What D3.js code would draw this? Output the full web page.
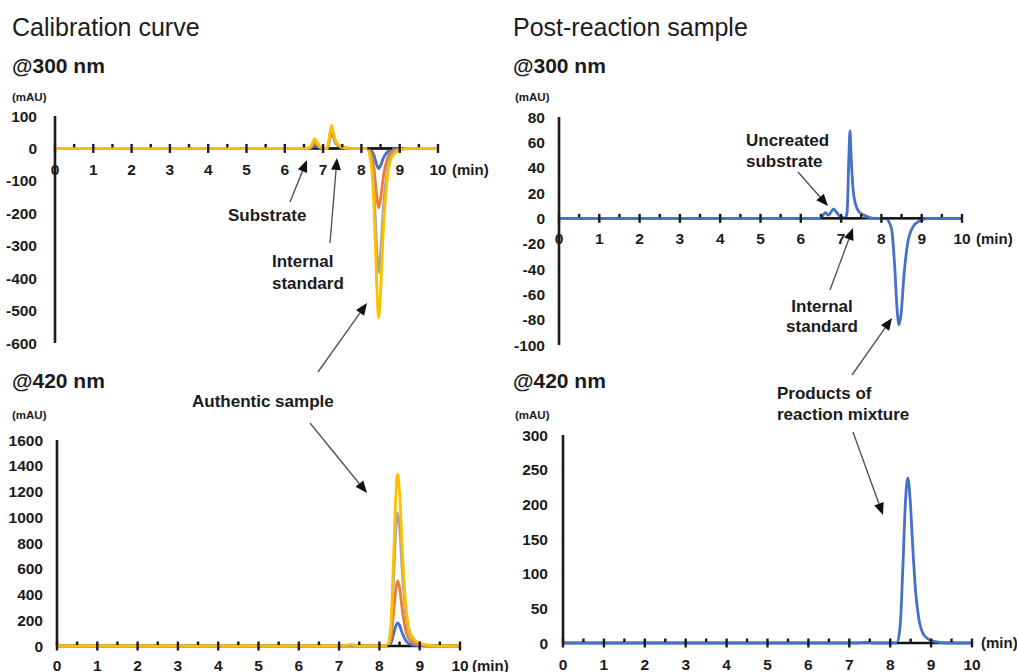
<!DOCTYPE html>
<html><head><meta charset="utf-8">
<script src="https://cdn.jsdelivr.net/npm/d3@7/dist/d3.min.js"></script>
<style>
body{margin:0;background:#fff;}
svg{display:block;font-family:"Liberation Sans",Arial,sans-serif;}
</style></head>
<body>
<svg id="c" width="1017" height="672"></svg>
<script>
// ---------------- DATA ----------------
const xTickLabels = [0,1,2,3,4,5,6,7,8,9,10];
const seriesNames = ["blue","orange","gray","yellow"];
const seriesColors = ["#4472C4","#ED7D31","#A5A5A5","#FFC000"];

// Calibration curve @300 nm
const calib300Ticks = [100,0,-100,-200,-300,-400,-500,-600];
const calib300Time = [0,6.6,6.68,6.74,6.78,6.83,6.9,6.98,7.05,7.1,7.15,7.19,7.22,7.26,7.32,7.4,7.5,7.7,8.15,8.25,8.33,8.4,8.45,8.5,8.58,8.68,8.8,9.0,9.3,10];
const calib300Blue   = [0,0,2,7,10,7,3,0.5,0,0,15,40,50,38,18,8,3,0,0,-5,-22,-50,-62,-53,-28,-11,-3,-1,0,0];
const calib300Orange = [0,0,4,13,18,13,5,1,0,0,17,46,58,44,20,9,3,0,0,-15,-64,-146,-183,-156,-82,-31,-9,-2,0,0];
const calib300Gray   = [0,0,5,17,24,17,6,1,0,0,19,51,64,48,22,10,3,0,0,-31,-134,-307,-384,-326,-173,-65,-19,-4,0,0];
const calib300Yellow = [0,0,6,21,30,21,8,2,0,0,21,56,70,53,25,11,4,0,0,-42,-183,-418,-523,-445,-235,-89,-26,-5,0,0];
const calib300Baselines = [[7.15,7.4],[8.15,8.8]];

// Calibration curve @420 nm
const calib420Ticks = [1600,1400,1200,1000,800,600,400,200,0];
const calib420Time = [0,7.1,7.3,7.5,8.2,8.28,8.35,8.41,8.45,8.5,8.57,8.65,8.75,8.9,9.1,9.4,10];
const calib420Blue   = [0,0,2,0,0,18,90,158,179,161,98,45,16,5,2,0,0];
const calib420Orange = [0,0,5,0,0,50,252,444,505,455,278,126,45,15,5,0,0];
const calib420Gray   = [0,0,8,0,0,103,516,909,1033,930,568,258,93,31,10,0,0];
const calib420Yellow = [0,0,12,0,0,134,668,1176,1336,1202,735,334,120,40,13,0,0];
const calib420Baselines = [[8.2,8.75]];

// Post-reaction sample @300 nm
const post300Ticks = [80,60,40,20,0,-20,-40,-60,-80,-100];
const post300Time = [0,6.5,6.56,6.62,6.68,6.75,6.81,6.88,6.95,7.02,7.1,7.15,7.19,7.22,7.25,7.3,7.36,7.45,7.6,7.8,8.1,8.25,8.33,8.39,8.44,8.49,8.56,8.65,8.78,8.95,9.2,10];
const post300Blue = [0,0,3,4.5,2.5,5,7.5,5,2,1,0,5,45,69,48,22,11,5,2,0,0,-8,-38,-72,-84,-75,-45,-20,-7,-2,0,0];
const post300Baselines = [[6.5,7.5],[8.0,9.0]];

// Post-reaction sample @420 nm
const post420Ticks = [300,250,200,150,100,50,0];
const post420Time = [0,7.2,7.4,7.6,8.17,8.25,8.31,8.37,8.43,8.49,8.55,8.62,8.7,8.8,8.95,9.1,9.4,10];
const post420Blue = [0,0,1,0,0,30,110,200,238,205,140,75,35,14,5,2,0,0];
const post420Baselines = [[8.17,8.93]];

// ---------------- LAYOUT ----------------
const svg = d3.select("#c");
const ink = "#1b1b1b";

const panels = [
  {time: calib300Time, series:[calib300Blue,calib300Orange,calib300Gray,calib300Yellow], colorIdx:[0,1,2,3],
   ticks: calib300Ticks, dom:[-600,100], x0:55, x1:438, yTop:116, yBot:343, labelX:37, xLabDy:26.5,
   minX:[452,175], baselines: calib300Baselines},
  {time: calib420Time, series:[calib420Blue,calib420Orange,calib420Gray,calib420Yellow], colorIdx:[0,1,2,3],
   ticks: calib420Ticks, dom:[0,1600], x0:57, x1:460, yTop:440, yBot:646, labelX:43, xLabDy:24.5,
   minX:[472,670.5], baselines: calib420Baselines},
  {time: post300Time, series:[post300Blue], colorIdx:[0],
   ticks: post300Ticks, dom:[-100,80], x0:559, x1:962, yTop:117, yBot:345, labelX:545, xLabDy:26,
   minX:[976,244], baselines: post300Baselines},
  {time: post420Time, series:[post420Blue], colorIdx:[0],
   ticks: post420Ticks, dom:[0,300], x0:563, x1:972, yTop:435, yBot:643, labelX:548, xLabDy:27,
   minX:[981,648], baselines: post420Baselines}
];

panels.forEach(p => {
  const x = d3.scaleLinear().domain([0,10]).range([p.x0,p.x1]);
  const y = d3.scaleLinear().domain(p.dom).range([p.yBot,p.yTop]);
  const g = svg.append("g");
  const y0 = y(0);
  g.append("line").attr("x1",p.x0).attr("x2",p.x0).attr("y1",p.yTop).attr("y2",p.yBot)
    .attr("stroke",ink).attr("stroke-width",2.6);
  g.append("line").attr("x1",p.x0).attr("x2",p.x1).attr("y1",y0).attr("y2",y0)
    .attr("stroke",ink).attr("stroke-width",2.4);
  g.selectAll(".yl").data(p.ticks).enter().append("text")
    .attr("x",p.labelX).attr("y",d=>y(d)).attr("dy","0.36em")
    .attr("text-anchor","end").attr("font-size",15.5).attr("font-weight","bold").attr("fill",ink)
    .text(d=>d);
  const line = d3.line().x(d=>x(d[0])).y(d=>y(d[1])).curve(d3.curveMonotoneX);
  p.series.forEach((vals,i) => {
    const pts = p.time.map((t,k)=>[t,vals[k]]);
    g.append("path").attr("d",line(pts)).attr("fill","none")
      .attr("stroke",seriesColors[p.colorIdx[i]]).attr("stroke-width",2.8)
      .attr("stroke-linejoin","round");
  });
  p.baselines.forEach(b => {
    g.append("line").attr("x1",x(b[0])).attr("x2",x(b[1])).attr("y1",y0).attr("y2",y0)
      .attr("stroke","#111").attr("stroke-width",2);
  });
  const major = d3.range(0,11,1), minor = d3.range(0.5,10,1);
  g.selectAll(".mj").data(major).enter().append("line")
    .attr("x1",d=>x(d)).attr("x2",d=>x(d)).attr("y1",y0-4.5).attr("y2",y0+4.5)
    .attr("stroke",ink).attr("stroke-width",2.4);
  g.selectAll(".mn").data(minor).enter().append("line")
    .attr("x1",d=>x(d)).attr("x2",d=>x(d)).attr("y1",y0-4.5).attr("y2",y0-1)
    .attr("stroke",ink).attr("stroke-width",2.4);
  g.selectAll(".xl").data(xTickLabels).enter().append("text")
    .attr("x",d=>x(d)).attr("y",y0+p.xLabDy)
    .attr("text-anchor","middle").attr("font-size",15.5).attr("font-weight","bold").attr("fill",ink)
    .text(d=>d);
  g.append("text").attr("x",p.minX[0]).attr("y",p.minX[1])
    .attr("font-size",15).attr("font-weight","bold").attr("fill",ink).text("(min)");
});

// ---------------- TEXT ----------------
function txt(x,y,s,size,weight,anchor){
  svg.append("text").attr("x",x).attr("y",y).attr("font-size",size)
    .attr("font-weight",weight||"normal").attr("text-anchor",anchor||"start")
    .attr("fill",ink).text(s);
}
txt(12,36,"Calibration curve",25);
txt(513,36,"Post-reaction sample",25);
txt(12,73,"@300 nm",21,"bold");
txt(513,73,"@300 nm",21,"bold");
txt(12,388,"@420 nm",21,"bold");
txt(513,388,"@420 nm",21,"bold");
txt(12,101,"(mAU)",11.5,"bold");
txt(515,101,"(mAU)",11.5,"bold");
txt(12,419,"(mAU)",11.5,"bold");
txt(515,419,"(mAU)",11.5,"bold");

txt(228,221,"Substrate",17,"bold");
txt(272,267,"Internal",17,"bold");
txt(272,289,"standard",17,"bold");
txt(192,407,"Authentic sample",17,"bold");
txt(746,146,"Uncreated",17,"bold");
txt(746,167,"substrate",17,"bold");
txt(822,312,"Internal",17,"bold","middle");
txt(822,332,"standard",17,"bold","middle");
txt(777,399,"Products of",17,"bold");
txt(777,420,"reaction mixture",17,"bold");

// ---------------- ARROWS ----------------
const arrows = [
  [290,202,307,160],[330,243,337,158],
  [318,372,367,303],[310,423,367,493],
  [798,172,828,206],[830,290,853,228],
  [852,375,892,318],[853,432,883,515]
];
arrows.forEach(a => {
  const [x1,y1,x2,y2] = a;
  const ang = Math.atan2(y2-y1,x2-x1);
  const L = 12, W = 5;
  const bx = x2 - L*Math.cos(ang), by = y2 - L*Math.sin(ang);
  svg.append("line").attr("x1",x1).attr("y1",y1).attr("x2",bx).attr("y2",by)
    .attr("stroke","#555").attr("stroke-width",1.4);
  const px = -Math.sin(ang)*W, py = Math.cos(ang)*W;
  svg.append("path").attr("d",`M${x2},${y2}L${bx+px},${by+py}L${bx-px},${by-py}Z`).attr("fill","#111");
});
</script>
</body></html>
